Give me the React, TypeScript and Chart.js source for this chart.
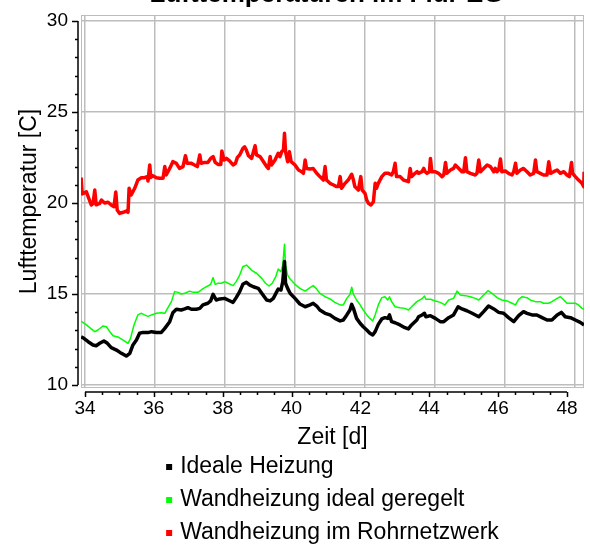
import React, { useEffect, useRef } from 'react';
import { Chart, registerables } from 'chart.js';

Chart.register(...registerables);

const FONT = "'Liberation Sans', Arial, Helvetica, sans-serif";

const chartTitle = 'Lufttemperaturen im Flur EG';
const xAxisTitle = 'Zeit [d]';
const yAxisTitle = 'Lufttemperatur [C]';
const xTickValues = [34, 36, 38, 40, 42, 44, 46, 48];
const yTickValues = [10, 15, 20, 25, 30];
const seriesNames = ['Ideale Heizung', 'Wandheizung ideal geregelt', 'Wandheizung im Rohrnetzwerk'];
const seriesColors = ['#000000', '#00ff00', '#ff0000'];

// [day, temperature]
const idealeHeizung = [
  [33.89, 12.65], [33.94, 12.6], [34.09, 12.38], [34.23, 12.2], [34.32, 12.16], [34.42, 12.29], [34.54, 12.42],
  [34.64, 12.29], [34.75, 12.05], [34.9, 11.92], [35.04, 11.74], [35.18, 11.59], [35.28, 11.74], [35.37, 12.2],
  [35.47, 12.47], [35.56, 12.84], [35.66, 12.89], [35.8, 12.88], [35.9, 12.93], [36.04, 12.89], [36.18, 12.89],
  [36.28, 13.11], [36.42, 13.48], [36.51, 13.97], [36.61, 14.16], [36.75, 14.12], [36.85, 14.18], [36.94, 14.25],
  [37.04, 14.16], [37.18, 14.16], [37.28, 14.21], [37.37, 14.4], [37.51, 14.49], [37.59, 14.62], [37.66, 14.98],
  [37.75, 14.67], [37.85, 14.73], [37.99, 14.76], [38.13, 14.63], [38.23, 14.54], [38.32, 14.8], [38.42, 15.13],
  [38.51, 15.53], [38.61, 15.64], [38.71, 15.49], [38.81, 15.4], [38.95, 15.31], [39.05, 15.04], [39.19, 14.67],
  [39.29, 14.62], [39.38, 14.76], [39.48, 15.13], [39.52, 15.27], [39.6, 15.22], [39.65, 15.68], [39.7, 16.78],
  [39.73, 15.59], [39.79, 15.31], [39.86, 15.04], [40.0, 14.76], [40.14, 14.45], [40.29, 14.3], [40.43, 14.4],
  [40.52, 14.49], [40.62, 14.34], [40.71, 14.12], [40.86, 13.94], [41.0, 13.85], [41.14, 13.66], [41.29, 13.52],
  [41.38, 13.57], [41.48, 13.85], [41.57, 14.12], [41.62, 14.43], [41.67, 14.21], [41.76, 13.66], [41.86, 13.39],
  [41.95, 13.2], [42.05, 13.02], [42.14, 12.84], [42.22, 12.75], [42.29, 12.93], [42.38, 13.33], [42.48, 13.63],
  [42.57, 13.7], [42.65, 13.66], [42.7, 13.85], [42.76, 13.48], [42.86, 13.42], [43.0, 13.3], [43.14, 13.15],
  [43.24, 13.08], [43.33, 13.3], [43.48, 13.57], [43.53, 13.75], [43.63, 13.85], [43.7, 13.94], [43.74, 13.75],
  [43.87, 13.81], [44.01, 13.66], [44.15, 13.48], [44.25, 13.48], [44.39, 13.7], [44.53, 13.85], [44.66, 14.3],
  [44.77, 14.18], [44.91, 14.08], [45.06, 13.94], [45.25, 13.75], [45.39, 14.03], [45.53, 14.34], [45.68, 14.18],
  [45.82, 13.99], [45.96, 13.94], [46.1, 13.7], [46.25, 13.48], [46.39, 13.81], [46.53, 14.03], [46.63, 13.94],
  [46.77, 13.85], [46.91, 13.85], [47.06, 13.7], [47.2, 13.57], [47.34, 13.57], [47.49, 13.85], [47.61, 13.99],
  [47.72, 13.75], [47.87, 13.7], [48.01, 13.57], [48.15, 13.44], [48.26, 13.3],
];

const wandIdeal = [
  [33.89, 13.5], [33.94, 13.44], [34.04, 13.3], [34.18, 13.08], [34.28, 12.93], [34.37, 13.02], [34.51, 13.24],
  [34.61, 13.2], [34.71, 12.93], [34.8, 12.71], [34.94, 12.64], [35.09, 12.47], [35.23, 12.29], [35.3, 12.56],
  [35.4, 13.3], [35.51, 13.85], [35.61, 13.94], [35.7, 13.85], [35.8, 13.77], [35.9, 13.85], [36.04, 13.94],
  [36.18, 13.97], [36.28, 13.94], [36.37, 14.25], [36.47, 14.58], [36.56, 15.13], [36.66, 15.09], [36.75, 15.0],
  [36.85, 15.04], [36.99, 15.16], [37.09, 15.09], [37.23, 15.09], [37.32, 15.22], [37.42, 15.35], [37.51, 15.44],
  [37.59, 15.53], [37.66, 15.9], [37.72, 15.53], [37.8, 15.59], [37.9, 15.59], [37.99, 15.68], [38.09, 15.59],
  [38.23, 15.46], [38.32, 15.68], [38.42, 16.04], [38.51, 16.5], [38.61, 16.59], [38.71, 16.41], [38.76, 16.3],
  [38.9, 16.14], [39.05, 15.86], [39.16, 15.59], [39.26, 15.44], [39.35, 15.59], [39.45, 15.95], [39.52, 16.37],
  [39.6, 16.23], [39.65, 16.59], [39.7, 17.73], [39.73, 16.59], [39.79, 16.04], [39.86, 15.82], [40.0, 15.53],
  [40.14, 15.31], [40.29, 15.16], [40.43, 15.35], [40.52, 15.46], [40.62, 15.27], [40.71, 15.04], [40.86, 14.85],
  [41.0, 14.73], [41.14, 14.54], [41.29, 14.4], [41.38, 14.4], [41.48, 14.76], [41.57, 14.98], [41.62, 15.37],
  [41.67, 14.98], [41.76, 14.67], [41.86, 14.4], [41.95, 14.12], [42.05, 13.85], [42.14, 13.66], [42.22, 13.52],
  [42.29, 13.85], [42.38, 14.4], [42.48, 14.8], [42.57, 14.85], [42.65, 14.67], [42.7, 14.85], [42.76, 14.58],
  [42.86, 14.3], [43.0, 14.25], [43.14, 14.21], [43.24, 14.12], [43.33, 14.3], [43.48, 14.58], [43.62, 14.73],
  [43.7, 14.89], [43.74, 14.71], [43.87, 14.71], [44.01, 14.62], [44.15, 14.54], [44.28, 14.4], [44.39, 14.67],
  [44.53, 14.76], [44.63, 15.16], [44.72, 14.95], [44.87, 14.91], [45.01, 14.85], [45.15, 14.76], [45.25, 14.67],
  [45.39, 14.95], [45.51, 15.18], [45.63, 15.04], [45.77, 14.8], [45.91, 14.67], [46.06, 14.62], [46.2, 14.49],
  [46.3, 14.4], [46.39, 14.71], [46.49, 14.85], [46.63, 14.8], [46.72, 14.67], [46.87, 14.58], [47.01, 14.58],
  [47.1, 14.49], [47.25, 14.49], [47.34, 14.58], [47.49, 14.76], [47.58, 14.85], [47.68, 14.67], [47.77, 14.49],
  [47.9, 14.49], [48.01, 14.49], [48.1, 14.4], [48.2, 14.21], [48.26, 14.16],
];

const wandRohrnetz = [
  [33.89, 21.4], [33.92, 20.5], [33.98, 20.55], [34.04, 20.62], [34.09, 20.35], [34.18, 19.89], [34.23, 19.98],
  [34.28, 20.71], [34.32, 19.9], [34.42, 19.98], [34.47, 20.16], [34.56, 20.0], [34.66, 20.04], [34.75, 19.89],
  [34.83, 19.8], [34.88, 20.6], [34.92, 19.62], [34.99, 19.43], [35.09, 19.49], [35.18, 19.56], [35.23, 19.49],
  [35.26, 20.81], [35.32, 20.44], [35.42, 20.81], [35.51, 21.26], [35.61, 21.39], [35.7, 21.39], [35.78, 21.45],
  [35.8, 21.21], [35.85, 22.09], [35.88, 21.4], [35.94, 21.5], [36.04, 21.39], [36.13, 21.36], [36.23, 21.36],
  [36.28, 22.0], [36.32, 21.54], [36.42, 21.9], [36.51, 22.27], [36.61, 22.18], [36.7, 21.9], [36.8, 22.0],
  [36.87, 22.6], [36.92, 22.18], [37.04, 22.18], [37.13, 22.09], [37.21, 22.0], [37.28, 22.64], [37.32, 22.18],
  [37.42, 22.23], [37.51, 22.23], [37.59, 22.45], [37.66, 22.55], [37.72, 22.23], [37.8, 22.12], [37.88, 22.12],
  [37.91, 22.86], [37.97, 22.36], [38.04, 22.45], [38.13, 22.31], [38.23, 22.09], [38.3, 22.18], [38.35, 22.49],
  [38.42, 22.64], [38.51, 23.0], [38.56, 23.09], [38.61, 22.91], [38.67, 22.6], [38.76, 22.45], [38.86, 23.15],
  [38.9, 22.64], [39.0, 22.55], [39.1, 22.27], [39.19, 22.0], [39.24, 21.9], [39.29, 22.55], [39.33, 22.09],
  [39.43, 22.36], [39.52, 22.73], [39.57, 22.55], [39.62, 22.82], [39.67, 22.92], [39.7, 23.83], [39.73, 22.82],
  [39.79, 22.27], [39.84, 22.82], [39.89, 22.27], [40.0, 22.09], [40.1, 21.81], [40.19, 21.72], [40.24, 21.63],
  [40.29, 22.36], [40.33, 21.9], [40.43, 21.87], [40.52, 21.9], [40.62, 21.63], [40.71, 21.45], [40.81, 21.26],
  [40.86, 22.0], [40.9, 21.26], [41.0, 21.08], [41.1, 20.99], [41.19, 20.9], [41.24, 20.9], [41.29, 21.45],
  [41.33, 20.81], [41.43, 21.08], [41.52, 21.26], [41.62, 21.58], [41.67, 21.26], [41.71, 20.9], [41.81, 20.71],
  [41.88, 21.45], [41.92, 20.71], [42.0, 20.53], [42.05, 20.16], [42.1, 19.98], [42.17, 19.89], [42.24, 20.07],
  [42.29, 21.08], [42.33, 20.81], [42.38, 21.08], [42.48, 21.45], [42.57, 21.63], [42.67, 21.63], [42.76, 21.54],
  [42.81, 21.72], [42.86, 22.18], [42.9, 21.45], [43.0, 21.45], [43.1, 21.26], [43.19, 21.21], [43.24, 21.17],
  [43.29, 21.9], [43.33, 21.45], [43.43, 21.63], [43.49, 21.72], [43.53, 21.63], [43.63, 21.72], [43.68, 21.9],
  [43.72, 21.72], [43.77, 21.63], [43.84, 21.72], [43.87, 22.45], [43.91, 21.72], [44.01, 21.72], [44.1, 21.63],
  [44.2, 21.45], [44.25, 21.54], [44.3, 22.23], [44.34, 21.63], [44.44, 21.81], [44.53, 21.9], [44.58, 22.09],
  [44.68, 21.9], [44.77, 21.72], [44.82, 21.72], [44.87, 22.49], [44.91, 21.72], [45.01, 21.63], [45.15, 21.54],
  [45.2, 21.63], [45.25, 22.36], [45.3, 21.72], [45.39, 21.9], [45.49, 22.09], [45.58, 22.0], [45.68, 21.72],
  [45.72, 21.9], [45.77, 21.72], [45.82, 21.81], [45.87, 22.42], [45.91, 21.72], [46.01, 21.76], [46.1, 21.63],
  [46.2, 21.54], [46.25, 21.72], [46.3, 22.18], [46.34, 21.63], [46.44, 21.81], [46.53, 21.9], [46.63, 21.72],
  [46.72, 21.54], [46.82, 21.63], [46.87, 22.36], [46.91, 21.72], [47.01, 21.63], [47.1, 21.54], [47.2, 21.54],
  [47.25, 22.27], [47.3, 21.63], [47.39, 21.72], [47.49, 21.81], [47.58, 21.63], [47.68, 21.72], [47.77, 21.54],
  [47.84, 21.45], [47.9, 22.23], [47.93, 21.63], [48.01, 21.45], [48.1, 21.26], [48.2, 21.08], [48.25, 20.9],
  [48.26, 21.72],
];

const seriesData = [idealeHeizung, wandIdeal, wandRohrnetz];
const seriesWidths = [3.5, 1.5, 3.5];

const GRID = '#bdbdbd';

const framePlugin = {
  id: 'frame',
  beforeDatasetsDraw(chart: any) {
    const { ctx, chartArea: a } = chart;
    ctx.save();
    ctx.strokeStyle = GRID;
    ctx.lineWidth = 1;
    ctx.strokeRect(a.left + 0.5, a.top + 0.5, a.right - a.left - 1, a.bottom - a.top - 1);
    ctx.restore();
  },
};

const decoPlugin = {
  id: 'deco',
  afterDraw(chart: any) {
    const { ctx, chartArea: a } = chart;
    const xs = chart.scales.xAx;
    const ys = chart.scales.y;
    ctx.save();
    ctx.strokeStyle = '#000';
    ctx.lineWidth = 1.5;
    // y axis
    const ax = a.left - 3;
    const yLo = yTickValues[0];
    const yHi = yTickValues[yTickValues.length - 1];
    ctx.beginPath();
    ctx.moveTo(ax, ys.getPixelForValue(yHi));
    ctx.lineTo(ax, ys.getPixelForValue(yLo));
    for (let v = yLo; v <= yHi; v += 1) {
      const p = Math.round(ys.getPixelForValue(v)) + 0.5;
      const len = v % 5 === 0 ? 6 : 3;
      ctx.moveTo(ax, p);
      ctx.lineTo(ax - len, p);
    }
    ctx.stroke();
    // x axis
    const ay = a.bottom + 4;
    const xLo = xTickValues[0];
    const xHi = xTickValues[xTickValues.length - 1];
    ctx.beginPath();
    ctx.moveTo(xs.getPixelForValue(xLo), ay);
    ctx.lineTo(xs.getPixelForValue(xHi), ay);
    for (let v = xLo; v <= xHi + 1e-9; v += 0.5) {
      const p = Math.round(xs.getPixelForValue(v)) + 0.5;
      const len = Math.abs(v % 2) < 1e-9 ? 5 : 3;
      ctx.moveTo(p, ay);
      ctx.lineTo(p, ay + len);
    }
    ctx.stroke();

    // title (cut at top)
    ctx.fillStyle = '#000';
    ctx.font = `bold 26px ${FONT}`;
    ctx.textAlign = 'center';
    ctx.textBaseline = 'alphabetic';
    ctx.fillText(chartTitle, (a.left + a.right) / 2 - 6, 2);

    // legend
    ctx.font = `23px ${FONT}`;
    ctx.textAlign = 'left';
    ctx.textBaseline = 'middle';
    const widths = chart.data.datasets.map((d: any) => ctx.measureText(d.label).width);
    const maxW = Math.max(...widths);
    const box = 6;
    const gap = 8;
    const left = (a.left + a.right) / 2 - (box + gap + maxW) / 2;
    chart.data.datasets.forEach((d: any, i: number) => {
      const cy = a.bottom + 79 + i * 33;
      ctx.fillStyle = d.borderColor;
      ctx.fillRect(left, cy - box / 2, box, box);
      ctx.fillStyle = '#000';
      ctx.fillText(d.label, left + box + gap, cy);
    });
    ctx.restore();
  },
};

export default function App() {
  const ref = useRef<HTMLCanvasElement | null>(null);

  useEffect(() => {
    if (!ref.current) return;
    const setTicks = (vals: number[]) => (s: any) => {
      s.ticks = vals.map((v) => ({ value: v }));
    };
    const fitH = (h: number) => (s: any) => {
      s.height = h;
      s.paddingLeft = 0;
      s.paddingRight = 0;
      s.paddingTop = 0;
      s.paddingBottom = 0;
    };
    const fitW = (w: number) => (s: any) => {
      s.width = w;
      s.paddingLeft = 0;
      s.paddingRight = 0;
      s.paddingTop = 0;
      s.paddingBottom = 0;
    };
    const chart = new Chart(ref.current, {
      type: 'line',
      data: {
        datasets: seriesData.map((arr, i) => ({
          label: seriesNames[i],
          data: arr.map(([x, y]) => ({ x, y })),
          borderColor: seriesColors[i],
          backgroundColor: seriesColors[i],
          borderWidth: seriesWidths[i],
          pointRadius: 0,
          tension: 0,
          fill: false,
          borderJoinStyle: 'round',
          xAxisID: 'x',
          yAxisID: 'y',
        })),
      },
      options: {
        responsive: false,
        animation: false,
        events: [],
        layout: { padding: { top: 15, right: 6, left: 0, bottom: 0 } },
        plugins: {
          legend: { display: false },
          title: { display: false },
          tooltip: { enabled: false },
        },
        scales: {
          x: {
            type: 'linear',
            position: 'bottom',
            min: 33.886,
            max: 48.257,
            afterBuildTicks: setTicks(xTickValues),
            afterFit: fitH(0),
            ticks: { display: false },
            grid: { color: GRID, lineWidth: 1.5, drawTicks: false },
            border: { display: false },
          },
          xAx: {
            type: 'linear',
            position: 'bottom',
            min: 33.884,
            max: 48.493,
            afterBuildTicks: setTicks(xTickValues),
            afterFit: fitH(157),
            ticks: { color: '#000', font: { family: FONT, size: 19 }, padding: 9, maxRotation: 0, autoSkip: false },
            grid: { display: false, drawTicks: false },
            border: { display: false },
            title: {
              display: true,
              text: xAxisTitle,
              color: '#000',
              font: { family: FONT, size: 23 },
              padding: { top: 0, bottom: 94 },
            },
          },
          y: {
            type: 'linear',
            position: 'left',
            min: 9.835,
            max: 30.33,
            afterBuildTicks: setTicks(yTickValues),
            afterFit: fitW(81),
            ticks: { color: '#000', font: { family: FONT, size: 19 }, padding: 13 },
            grid: { color: GRID, lineWidth: 1.5, drawTicks: false },
            border: { display: false },
            title: {
              display: true,
              text: yAxisTitle,
              color: '#000',
              font: { family: FONT, size: 23 },
              padding: { top: 16, bottom: 0 },
            },
          },
        },
      },
      plugins: [framePlugin, decoPlugin],
    } as any);
    return () => chart.destroy();
  }, []);

  return (
    <div style={{ position: 'absolute', left: 0, top: 0, width: 590, height: 545, background: '#fff' }}>
      <canvas ref={ref} width={590} height={545} style={{ display: 'block' }} />
    </div>
  );
}
